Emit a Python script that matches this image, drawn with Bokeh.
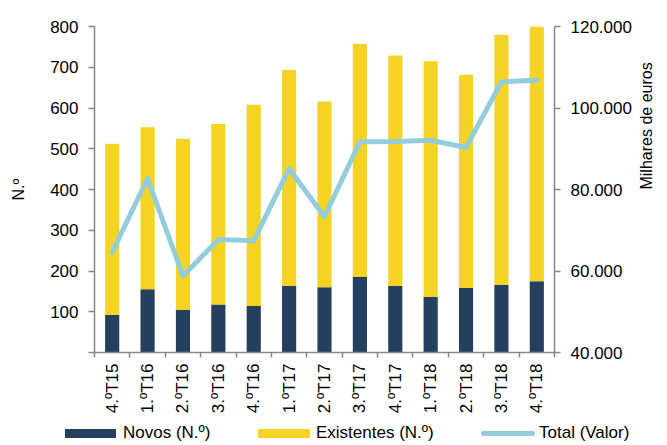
import math
from bokeh.plotting import figure
from bokeh.layouts import column
from bokeh.models import (Range1d, LinearAxis, FixedTicker, ColumnDataSource, Div)
from bokeh.embed import file_html
from bokeh.resources import INLINE

quarters = ["4.ºT15", "1.ºT16", "2.ºT16", "3.ºT16", "4.ºT16", "1.ºT17", "2.ºT17",
            "3.ºT17", "4.ºT17", "1.ºT18", "2.ºT18", "3.ºT18", "4.ºT18"]
novos = [92, 155, 105, 118, 114, 163, 160, 185, 163, 136, 158, 166, 175]
existentes = [420, 398, 419, 443, 494, 530, 456, 572, 566, 579, 523, 613, 626]
total_valor = [64600, 82700, 58800, 67700, 67400, 85100, 73300, 91700, 91800,
               92100, 90300, 106400, 106800]
left_ticks = [0, 100, 200, 300, 400, 500, 600, 700, 800]
right_ticks = [40000, 60000, 80000, 100000, 120000]
series_labels = ["Novos (N.º)", "Existentes (N.º)", "Total (Valor)"]

NAVY = "#253F5F"
YELLOW = "#F4D322"
BLUE = "#93CDDD"
GRAY = "#868686"
FONT = "Liberation Sans"
FS = "17px"

n = len(quarters)
centers = [i + 0.5 for i in range(n)]
source = ColumnDataSource(dict(x=centers, novos=novos, existentes=existentes,
                               valor=total_valor))

p = figure(frame_width=460, frame_height=326, output_backend="svg",
           toolbar_location=None,
           x_range=Range1d(0, n), y_range=Range1d(0, 800),
           min_border_left=94, min_border_right=0, min_border_top=26,
           min_border_bottom=0)
p.extra_y_ranges = {"valor": Range1d(40000, 120000)}
p.xgrid.grid_line_color = None
p.ygrid.grid_line_color = None
p.outline_line_color = None

bars = p.vbar_stack(["novos", "existentes"], x="x", width=0.4, source=source,
                    color=[NAVY, YELLOW], line_color=None)
line = p.line("x", "valor", source=source, y_range_name="valor", line_color=BLUE,
              line_width=5, line_cap="round", line_join="round")

xa = p.xaxis[0]
xa.ticker = FixedTicker(ticks=centers, minor_ticks=list(range(n + 1)))
xa.major_label_overrides = {c: q for c, q in zip(centers, quarters)}
xa.major_tick_out = 0
xa.major_tick_in = 0
xa.minor_tick_out = 5
xa.minor_tick_in = 0
xa.minor_tick_line_color = GRAY
xa.minor_tick_line_width = 1.5
xa.axis_line_color = GRAY
xa.axis_line_width = 1.5
xa.major_label_orientation = math.pi / 2
xa.major_label_text_font = FONT
xa.major_label_text_font_size = FS
xa.major_label_text_color = "black"
xa.major_label_standoff = 6

ya = p.yaxis[0]
ya.ticker = FixedTicker(ticks=left_ticks)
ya.major_label_overrides = {0: ""}
ya.major_tick_out = 6
ya.major_tick_in = 0
ya.major_tick_line_color = GRAY
ya.major_tick_line_width = 1.5
ya.axis_line_color = GRAY
ya.axis_line_width = 1.5
ya.major_label_text_font = FONT
ya.major_label_text_font_size = FS
ya.major_label_text_color = "black"
ya.major_label_standoff = 10
ya.axis_label = "N.º"
ya.axis_label_text_font = FONT
ya.axis_label_text_font_size = "16px"
ya.axis_label_text_font_style = "normal"
ya.axis_label_text_color = "black"
ya.axis_label_standoff = 20

ra = LinearAxis(y_range_name="valor", ticker=FixedTicker(ticks=right_ticks))
ra.major_label_overrides = {t: f"{t:,}".replace(",", ".") for t in right_ticks}
ra.major_tick_out = 6
ra.major_tick_in = 0
ra.major_tick_line_color = GRAY
ra.major_tick_line_width = 1.5
ra.axis_line_color = GRAY
ra.axis_line_width = 1.5
ra.major_label_text_font = FONT
ra.major_label_text_font_size = FS
ra.major_label_text_color = "black"
ra.major_label_standoff = 10
ra.axis_label = "Milhares de euros"
ra.axis_label_text_font = FONT
ra.axis_label_text_font_size = "16px"
ra.axis_label_text_font_style = "normal"
ra.axis_label_text_color = "black"
ra.axis_label_standoff = 12
if "axis_label_orientation" in ra.properties():
    ra.axis_label_orientation = math.pi / 2
p.add_layout(ra, "right")

# legend strip below the chart
swatches = [
    ("box", NAVY, 65, 51, series_labels[0], 123),
    ("box", YELLOW, 258, 52, series_labels[1], 316),
    ("line", BLUE, 481, 54, series_labels[2], 539),
]
parts = []
for kind, col, left, w, lab, tleft in swatches:
    if kind == "box":
        parts.append(f'<span style="position:absolute;left:{left}px;top:13px;'
                     f'width:{w}px;height:9px;background:{col};"></span>')
    else:
        parts.append(f'<span style="position:absolute;left:{left}px;top:15px;'
                     f'width:{w}px;height:5px;border-radius:3px;background:{col};"></span>')
    parts.append(f'<span style="position:absolute;left:{tleft}px;top:7px;'
                 f'line-height:20px;white-space:nowrap;">{lab}</span>')
legend_html = (f'<div style="position:relative;width:651px;height:28px;'
               f'font-family:\'{FONT}\';font-size:{FS};color:black;">'
               + "".join(parts) + "</div>")
leg = Div(text=legend_html, width=651, height=28, margin=0)

layout = column(p, leg, spacing=0)
open("out.html", "w").write(file_html(layout, INLINE))
